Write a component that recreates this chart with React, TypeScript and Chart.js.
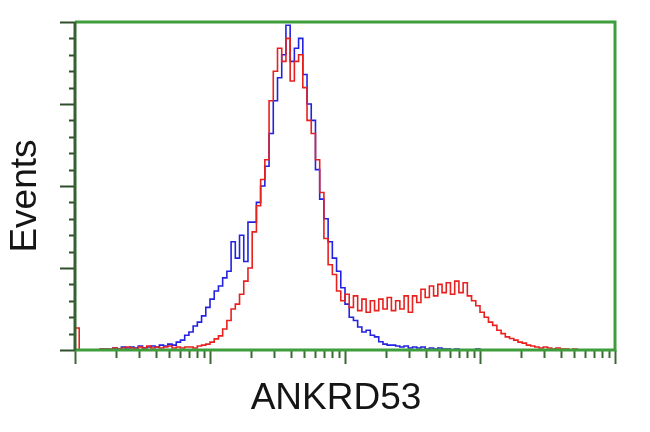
import React, { useEffect, useRef } from 'react';
import { Chart, registerables } from 'chart.js';

Chart.register(...registerables);

// Histogram channel values (every 2nd channel of 256)
const blueCounts = [
  0, 0, 0, 0, 0, 0, 0.3, 0.3, 0, 0.6,
  0.3, 0.9, 0.6, 0.9, 0.6, 1.2, 0.6, 0.9, 1.2, 0.9,
  1.5, 1.2, 1.8, 1.5, 2.4, 3.0, 4.5, 5.5, 7.3, 8.5,
  10.4, 13, 15.5, 18, 19.5, 22, 24, 33, 28, 35,
  27, 39, 39, 45, 50, 56, 66, 76, 83, 90,
  99, 88, 92, 95, 84, 75, 70, 55, 46, 40,
  33, 28, 24, 19, 14, 10, 9, 7, 5.5, 6,
  4.5, 4, 2.5, 1.8, 1.5, 1.5, 1.2, 0.9, 1.2, 0.6,
  0.9, 0.6, 0.9, 0.3, 0.6, 0.3, 0.6, 0.3, 0.3, 0,
  0.3, 0, 0, 0, 0, 0.3, 0, 0, 0, 0,
  0, 0, 0, 0, 0, 0, 0, 0, 0, 0,
  0, 0, 0, 0, 0, 0, 0, 0, 0, 0,
  0, 0, 0, 0, 0, 0, 0, 0,
];

const redCounts = [
  6.7, 0, 0, 0, 0, 0, 0.3, 0, 0.3, 0.6,
  0.3, 0.6, 0.9, 0.6, 0.3, 0.9, 0.6, 1.2, 0.6, 0.9,
  0.6, 0.9, 1.2, 0.6, 0.9, 0.6, 0.9, 0.9, 0.6, 1.2,
  1.5, 1.8, 2.4, 3.4, 4.3, 6.4, 9, 12.5, 14, 17,
  21, 25, 36, 44, 52, 58, 76, 85, 92, 88,
  95, 82, 88, 90, 80, 70, 66, 58, 48, 34,
  26, 23, 18, 15, 17, 13, 16.5, 12, 15.5, 11.5,
  15, 12, 15.5, 12.5, 16, 12, 15, 12.5, 16.5, 11.5,
  16.5, 14.5, 18.5, 16, 19.5, 16.5, 20, 17.5, 20.5, 17,
  21, 17.5, 20.5, 16.5, 15, 13.5, 11.5, 10, 8.5, 7.5,
  6, 5, 4, 3.5, 3, 2.4, 2.1, 1.5, 1.2, 0.9,
  0.6, 0.9, 0.6, 0.3, 0.6, 0.3, 0.3, 0, 0.3, 0,
  0, 0, 0, 0, 0, 0, 0, 0,
];

const CHANNEL_STEP = 2;
const X_MAX = 256;
const Y_MAX = 100;
const xDecadeTicks = [0, 64, 128, 192, 256];
const yMajorTicks = [0, 25, 50, 75, 100];
const yMinorStep = 5;
const logMinorMultipliers = [2, 3, 4, 5, 6, 7, 8, 9];
const X_TITLE = 'ANKRD53';
const Y_TITLE = 'Events';

const toPoints = (arr: number[]) => arr.map((v, i) => ({ x: i * CHANNEL_STEP, y: v }));

const framePlugin = {
  id: 'flowFrame',
  afterDatasetsDraw(chart: any) {
    const { ctx, chartArea, scales } = chart;
    const { left, right, top, bottom } = chartArea;
    const xs = scales.x;
    const ys = scales.y;
    ctx.save();
    ctx.lineCap = 'butt';
    // y ticks
    ctx.strokeStyle = '#2f4f2a';
    ctx.lineWidth = 2;
    for (let v = 0; v <= Y_MAX; v += yMinorStep) {
      const py = Math.round(ys.getPixelForValue(v)) + 0.5;
      const major = yMajorTicks.includes(v);
      ctx.beginPath();
      ctx.moveTo(left - (major ? 15 : 6), py);
      ctx.lineTo(left, py);
      ctx.stroke();
    }
    // x ticks (log decades)
    ctx.strokeStyle = '#3a6a33';
    for (let d = 0; d < xDecadeTicks.length; d++) {
      const px = Math.round(xs.getPixelForValue(xDecadeTicks[d])) + 0.5;
      ctx.beginPath();
      ctx.moveTo(px, bottom);
      ctx.lineTo(px, bottom + 14);
      ctx.stroke();
      if (d < xDecadeTicks.length - 1) {
        const span = xDecadeTicks[d + 1] - xDecadeTicks[d];
        for (const m of logMinorMultipliers) {
          const mx = Math.round(xs.getPixelForValue(xDecadeTicks[d] + span * Math.log10(m))) + 0.5;
          ctx.beginPath();
          ctx.moveTo(mx, bottom);
          ctx.lineTo(mx, bottom + 8);
          ctx.stroke();
        }
      }
    }
    // frame
    ctx.strokeStyle = '#3f9e3c';
    ctx.lineWidth = 3;
    ctx.beginPath();
    ctx.moveTo(left, top);
    ctx.lineTo(right, top);
    ctx.lineTo(right, bottom);
    ctx.lineTo(left, bottom);
    ctx.stroke();
    ctx.strokeStyle = '#34612f';
    ctx.beginPath();
    ctx.moveTo(left, top);
    ctx.lineTo(left, bottom);
    ctx.stroke();
    // titles
    ctx.fillStyle = '#151515';
    ctx.font = '37px "Liberation Sans", Arial, sans-serif';
    ctx.textAlign = 'center';
    ctx.textBaseline = 'middle';
    ctx.fillText(X_TITLE, 336, 399);
    ctx.translate(26, 196);
    ctx.rotate(-Math.PI / 2);
    ctx.fillText(Y_TITLE, 0, 0);
    ctx.restore();
  },
};

export default function App() {
  const ref = useRef<HTMLCanvasElement | null>(null);
  useEffect(() => {
    document.body.style.margin = '0';
    const canvas = ref.current;
    if (!canvas) return;
    const chart = new Chart(canvas, {
      type: 'line',
      data: {
        datasets: [
          {
            label: 'Red',
            data: toPoints(redCounts),
            borderColor: '#e8201e',
            borderWidth: 1.6,
            pointRadius: 0,
            stepped: true,
            fill: false,
          },
          {
            label: 'Blue',
            data: toPoints(blueCounts),
            borderColor: '#2222e0',
            borderWidth: 1.6,
            pointRadius: 0,
            stepped: true,
            fill: false,
          },
        ],
      },
      options: {
        responsive: false,
        animation: false,
        layout: { padding: { left: 75, right: 35, top: 22, bottom: 82 } },
        plugins: { legend: { display: false }, tooltip: { enabled: false } },
        scales: {
          x: { type: 'linear', min: 0, max: X_MAX, display: false },
          y: { type: 'linear', min: 0, max: Y_MAX, display: false },
        },
      },
      plugins: [framePlugin],
    });
    return () => chart.destroy();
  }, []);
  return <canvas ref={ref} width={650} height={432} style={{ display: 'block' }} />;
}
